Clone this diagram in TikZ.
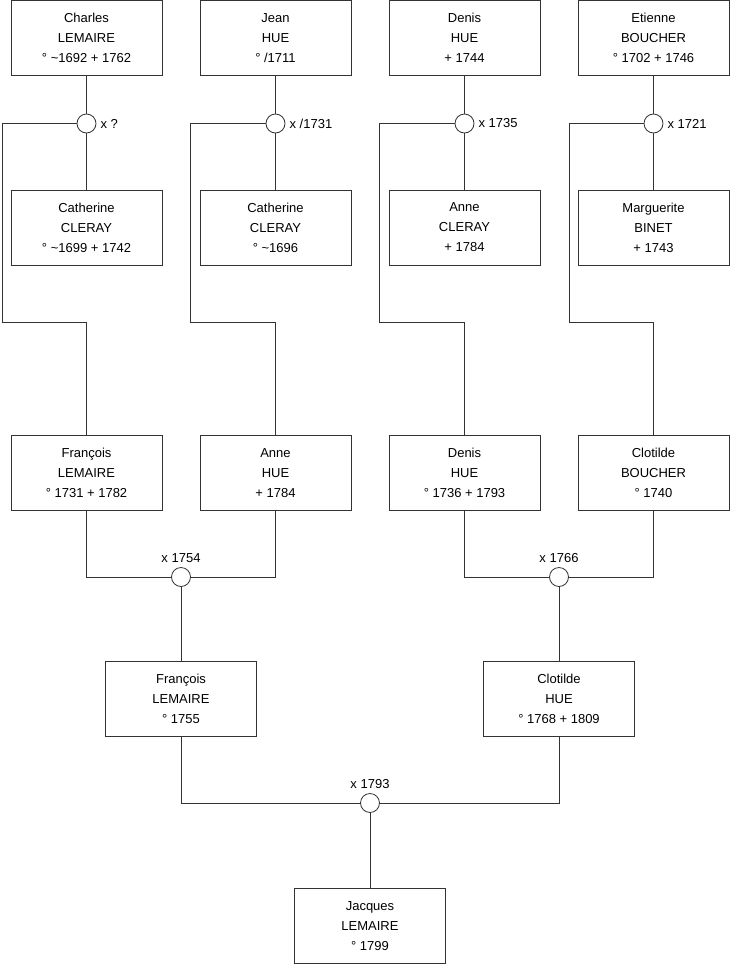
\documentclass[tikz,border=0pt]{standalone}
\usepackage{fontspec}
\setmainfont{Liberation Sans}
\usetikzlibrary{positioning}

\begin{document}
\begin{tikzpicture}[x=1pt, y=-1pt,
  person/.style={rectangle, draw=black!80, line width=0.8pt, align=center, minimum width=151pt, minimum height=75pt, inner sep=0pt, font=\fontsize{13}{20}\selectfont},
  wed/.style={circle, draw=black!80, line width=0.8pt, minimum size=19pt, inner sep=0pt},
  note/.style={inner sep=0pt, font=\fontsize{13}{15}\selectfont},
  link/.style={line width=0.8pt, draw=black!80}
]
\useasboundingbox (0,0) rectangle (740,975);
% oldest couples
\node[person] (charles) at (86.5,38) {Charles\\LEMAIRE\\° \textasciitilde1692 + 1762};
\node[person] (jean) at (275.5,38) {Jean\\HUE\\° /1711};
\node[person] (denis1) at (464.5,38) {Denis\\HUE\\+ 1744};
\node[person] (etienne) at (653.5,38) {Etienne\\BOUCHER\\° 1702 + 1746};
\node[wed] (m1) at (86.5,123.5) {};
\node[wed] (m2) at (275.5,123.5) {};
\node[wed] (m3) at (464.5,123.5) {};
\node[wed] (m4) at (653.5,123.5) {};
\node[note, right=4pt of m1] (t1) {x ?};
\node[note, right=4pt of m2] (t2) {x /1731};
\node[note, right=4pt of m3] (t3) {x 1735};
\node[note, right=4pt of m4] (t4) {x 1721};
\node[person] (cath1) at (86.5,227.5) {Catherine\\CLERAY\\° \textasciitilde1699 + 1742};
\node[person] (cath2) at (275.5,227.5) {Catherine\\CLERAY\\° \textasciitilde1696};
\node[person] (anne1) at (464.5,227.5) {Anne\\CLERAY\\+ 1784};
\node[person] (marg) at (653.5,227.5) {Marguerite\\BINET\\+ 1743};
% their children
\node[person] (franc1) at (86.5,473) {François\\LEMAIRE\\° 1731 + 1782};
\node[person] (anne2) at (275.5,473) {Anne\\HUE\\+ 1784};
\node[person] (denis2) at (464.5,473) {Denis\\HUE\\° 1736 + 1793};
\node[person] (clot1) at (653.5,473) {Clotilde\\BOUCHER\\° 1740};
\node[wed] (m5) at (181,577) {};
\node[wed] (m6) at (559,577) {};
\node[note, above=4pt of m5] (t5) {x 1754};
\node[note, above=4pt of m6] (t6) {x 1766};
\node[person] (franc2) at (181,699) {François\\LEMAIRE\\° 1755};
\node[person] (clot2) at (559,699) {Clotilde\\HUE\\° 1768 + 1809};
\node[wed] (m7) at (370,803) {};
\node[note, above=4pt of m7] (t7) {x 1793};
\node[person] (jacques) at (370,926) {Jacques\\LEMAIRE\\° 1799};
\coordinate (k1) at (2,322);
\coordinate (k2) at (190,322);
\coordinate (k3) at (379,322);
\coordinate (k4) at (569,322);
\draw[link] (charles) -- (m1) -- (cath1);
\draw[link] (jean) -- (m2) -- (cath2);
\draw[link] (denis1) -- (m3) -- (anne1);
\draw[link] (etienne) -- (m4) -- (marg);
\draw[link] (m1) -| (k1) -| (franc1);
\draw[link] (m2) -| (k2) -| (anne2);
\draw[link] (m3) -| (k3) -| (denis2);
\draw[link] (m4) -| (k4) -| (clot1);
\draw[link] (franc1) |- (m5) -| (anne2);
\draw[link] (denis2) |- (m6) -| (clot1);
\draw[link] (m5) -- (franc2);
\draw[link] (m6) -- (clot2);
\draw[link] (franc2) |- (m7) -| (clot2);
\draw[link] (m7) -- (jacques);
\end{tikzpicture}
\end{document}
